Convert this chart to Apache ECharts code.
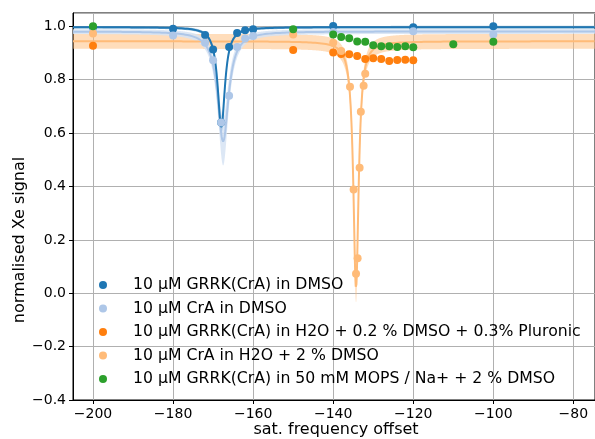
<!DOCTYPE html>
<html>
<head>
<meta charset="utf-8">
<script src="https://cdn.jsdelivr.net/npm/echarts@6/dist/echarts.min.js"></script>
<style>
  html, body { margin: 0; padding: 0; background: #fff; }
  #chart { width: 595px; height: 439px; }
</style>
</head>
<body>
<div id="chart"></div>
<script>
// Sample labels and colours (tab20-style pairs)
const seriesNames = [
  '10 µM GRRK(CrA) in DMSO',
  '10 µM CrA in DMSO',
  '10 µM GRRK(CrA) in H2O + 0.2 % DMSO + 0.3% Pluronic',
  '10 µM CrA in H2O + 2 % DMSO',
  '10 µM GRRK(CrA) in 50 mM MOPS / Na+ + 2 % DMSO'
];
const seriesColors = ['#1f77b4', '#aec7e8', '#ff7f0e', '#ffbb78', '#2ca02c'];

// Measured normalised signal vs saturation frequency offset
const grrkDmsoX = [-200, -180, -172, -170, -168, -166, -164, -162, -160, -140, -120, -100];
const grrkDmsoY = [0.997, 0.991, 0.968, 0.913, 0.640, 0.923, 0.975, 0.985, 0.989, 1.001, 0.997, 1.000];

const craDmsoX = [-200, -180, -172, -170, -168, -166, -164, -162, -160, -140, -120, -100];
const craDmsoY = [0.978, 0.966, 0.939, 0.873, 0.640, 0.740, 0.923, 0.954, 0.964, 0.979, 0.982, 0.969];

const grrkH2oX = [-200, -150, -140, -138, -136, -134, -132, -130, -128, -126, -124, -122, -120];
const grrkH2oY = [0.927, 0.911, 0.902, 0.896, 0.895, 0.889, 0.878, 0.880, 0.878, 0.870, 0.874, 0.875, 0.873];

const craH2oX = [-200, -150, -140, -138, -135.8, -134.9, -134.3, -133.9, -133.4, -133.1, -132.4, -132.0];
const craH2oY = [0.973, 0.969, 0.939, 0.908, 0.774, 0.389, 0.073, 0.131, 0.470, 0.680, 0.777, 0.822];

const grrkMopsX = [-200, -150, -140, -138, -136, -134, -132, -130, -128, -126, -124, -122, -120, -110, -100];
const grrkMopsY = [1.000, 0.989, 0.969, 0.960, 0.955, 0.943, 0.942, 0.929, 0.925, 0.925, 0.923, 0.925, 0.922, 0.933, 0.942];

// Lorentzian fits: [baseline, depth, centre, half width]
const fitGrrkDmso = [0.997, 0.375, -167.95, 1.1];
const fitCraDmso  = [0.981, 0.413, -167.5, 1.65];
const fitCraH2o   = [0.944, 0.925, -134.3, 0.8];
// Confidence band half widths: [at baseline, extra at the dip]
const bandGrrkDmso = [0.005, 0.02];
const bandCraDmso  = [0.009, 0.08];
const bandCraH2o   = [0.028, 0.025];

const xTicks = [-200, -180, -160, -140, -120, -100, -80];
const xRange = [-205, -74.6];
const yRange = [-0.4, 1.05];

function shape(p, x) {
  const d = (x - p[2]) / p[3];
  return 1 / (1 + d * d);
}
function model(p, x) {
  return p[0] - p[1] * shape(p, x);
}

const sampleX = [];
for (let x = xRange[0]; x <= xRange[1] + 1e-9; x += 0.02) sampleX.push(+x.toFixed(2));

function fitLine(p, color, z) {
  return {
    type: 'line', showSymbol: false, symbol: 'none', silent: true, z: z,
    data: sampleX.map(x => [x, model(p, x)]),
    lineStyle: { color: color, width: 2 }
  };
}
// Shaded band around a fit, drawn as one polygon in data coordinates
function band(p, b, color, z) {
  const half = x => b[0] + b[1] * shape(p, x);
  const upper = sampleX.map(x => [x, model(p, x) + half(x)]);
  const lower = sampleX.map(x => [x, model(p, x) - half(x)]).reverse();
  const outline = upper.concat(lower);
  return {
    type: 'custom', silent: true, z: z, clip: true,
    data: [[xRange[0], 0]],
    renderItem: (params, api) => ({
      type: 'polygon',
      shape: { points: outline.map(q => api.coord(q)) },
      style: { fill: color }
    })
  };
}
function points(i, xs, ys) {
  return {
    name: seriesNames[i], type: 'scatter', z: 10 + i,
    symbol: 'circle', symbolSize: 8,
    itemStyle: { color: seriesColors[i], opacity: 1 },
    data: xs.map((x, k) => [x, ys[k]])
  };
}

const font = 'DejaVu Sans';
const minus = s => String(s).replace('-', '\u2212');

const chart = echarts.init(document.getElementById('chart'), null, { renderer: 'canvas' });
chart.setOption({
  animation: false,
  backgroundColor: '#fff',
  grid: {
    left: 73, top: 13, width: 527, height: 387,
    show: true, borderColor: '#000', borderWidth: 1, backgroundColor: 'transparent'
  },
  xAxis: {
    type: 'value', min: xRange[0], max: xRange[1],
    axisLine: { show: true, onZero: false, lineStyle: { color: '#000', width: 1 } },
    axisTick: { show: true, length: 4, customValues: xTicks, lineStyle: { color: '#000' } },
    axisLabel: {
      customValues: xTicks, margin: 7, color: '#000', fontFamily: font, fontSize: 14,
      formatter: v => minus(v)
    },
    splitLine: { show: true, lineStyle: { color: '#b0b0b0', width: 1 } }
  },
  yAxis: {
    type: 'value', min: yRange[0], max: yRange[1], interval: 0.2,
    axisLine: { show: true, onZero: false, lineStyle: { color: '#000', width: 1 } },
    axisTick: { show: true, length: 4, lineStyle: { color: '#000' } },
    axisLabel: {
      margin: 7, color: '#000', fontFamily: font, fontSize: 14, showMaxLabel: false,
      formatter: v => (Math.abs(v - 1.05) < 1e-6 ? '' : minus(v.toFixed(1)))
    },
    splitLine: { show: true, lineStyle: { color: '#b0b0b0', width: 1 } }
  },
  legend: {
    orient: 'vertical', left: 94, top: 271,
    itemWidth: 50, itemHeight: 8, itemGap: 5.5,
    icon: 'circle', selectedMode: false,
    textStyle: { fontFamily: font, fontSize: 15.7, color: '#000', lineHeight: 18 },
    data: seriesNames
  },
  graphic: [
    {
      type: 'text', x: 20, y: 240, rotation: Math.PI / 2,
      style: { text: 'normalised Xe signal', fontFamily: font, fontSize: 16, fill: '#000',
               align: 'center', verticalAlign: 'middle' }
    },
    {
      type: 'text', x: 336, y: 430,
      style: { text: 'sat. frequency offset', fontFamily: font, fontSize: 16, fill: '#000',
               align: 'center', verticalAlign: 'middle' }
    }
  ],
  series: [
    band(fitCraH2o, bandCraH2o, 'rgba(255,187,120,0.5)', 1),
    band(fitCraDmso, bandCraDmso, 'rgba(214,227,243,0.85)', 1),
    band(fitGrrkDmso, bandGrrkDmso, 'rgba(31,119,180,0.35)', 1),
    fitLine(fitCraH2o, seriesColors[3], 3),
    fitLine(fitCraDmso, seriesColors[1], 3),
    fitLine(fitGrrkDmso, seriesColors[0], 4),
    points(0, grrkDmsoX, grrkDmsoY),
    points(1, craDmsoX, craDmsoY),
    points(2, grrkH2oX, grrkH2oY),
    points(3, craH2oX, craH2oY),
    points(4, grrkMopsX, grrkMopsY)
  ]
});
</script>
</body>
</html>
